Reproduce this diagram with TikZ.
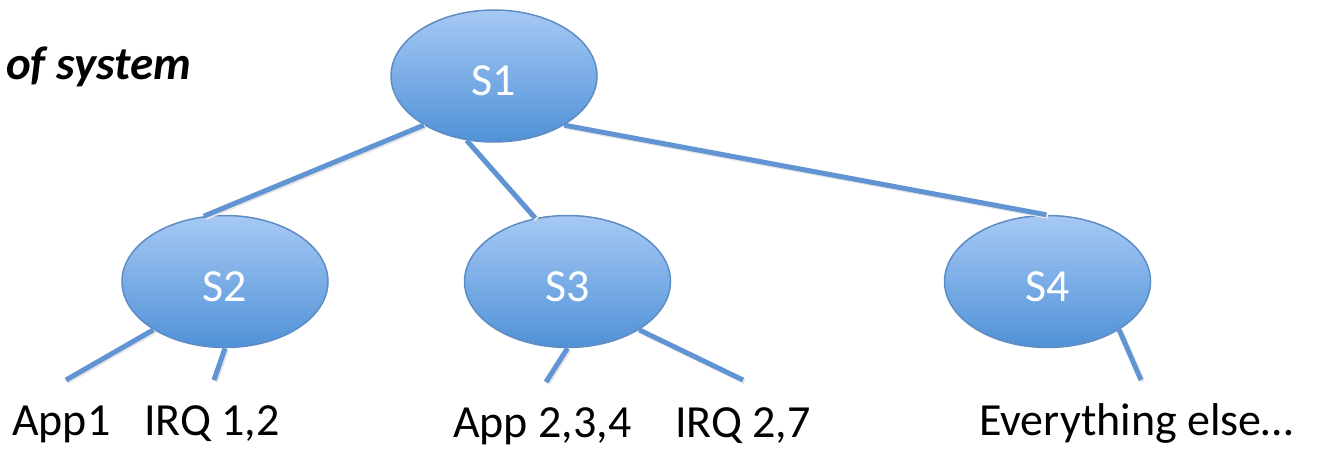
\documentclass[tikz,border=0pt]{standalone}
\usepackage{fontspec}
\setmainfont{Carlito}
\usetikzlibrary{shapes.geometric}
\definecolor{topblue}{RGB}{166,201,245}
\definecolor{botblue}{RGB}{80,145,215}
\definecolor{rimblue}{RGB}{95,140,195}
\definecolor{linkblue}{RGB}{96,148,210}
\begin{document}
\begin{tikzpicture}[x=1pt,y=-1pt,
  sys/.style={ellipse,draw=rimblue,line width=1.5pt,top color=topblue,bottom color=botblue,
    minimum width=206pt,minimum height=132pt,inner sep=0pt,text=white,
    font=\fontsize{46}{50}\selectfont,text height=40pt},
  link/.style={linkblue,line width=5pt,
    preaction={draw=black!10,line width=5pt,transform canvas={shift={(1.5pt,-1.5pt)}}}},
  leaf/.style={anchor=base west,inner sep=0pt,font=\fontsize{46}{50}\selectfont}]
\useasboundingbox (0,0) rectangle (1322,448);
% the tree
\node[sys] (s1) at (494,76) {S1};
\node[sys] (s2) at (225,281.5) {S2};
\node[sys] (s3) at (567.5,281.5) {S3};
\node[sys] (s4) at (1047.5,281.5) {S4};
\draw[link] (s1.215) -- (s2.108);
\draw[link] (s1.247) -- (s3.117);
\draw[link] (s1.325) -- (s4.91);
% loose ends above the labels
\coordinate (e1) at (66,380);
\coordinate (e2) at (214,380);
\coordinate (e3) at (546,382);
\coordinate (e4) at (743,380);
\coordinate (e5) at (1141,380);
\draw[link] (s2.214) -- (e1);
\draw[link] (s2.270) -- (e2);
\draw[link] (s3.270) -- (e3);
\draw[link] (s3.326) -- (e4);
\draw[link] (s4.326) -- (e5);
% labels
\node[leaf] (app1) at (12,435) {App1};
\node[leaf] (irq12) at (144,435) {IRQ 1,2};
\node[leaf] (app234) at (453,437) {App 2,3,4};
\node[leaf] (irq27) at (675,437) {IRQ 2,7};
\node[leaf] (rest) at (979,435) {Everything else…};
\node[anchor=base west,inner sep=0pt,font=\fontsize{47}{50}\selectfont\bfseries\itshape] (title) at (6,79) {of system};
\end{tikzpicture}
\end{document}
